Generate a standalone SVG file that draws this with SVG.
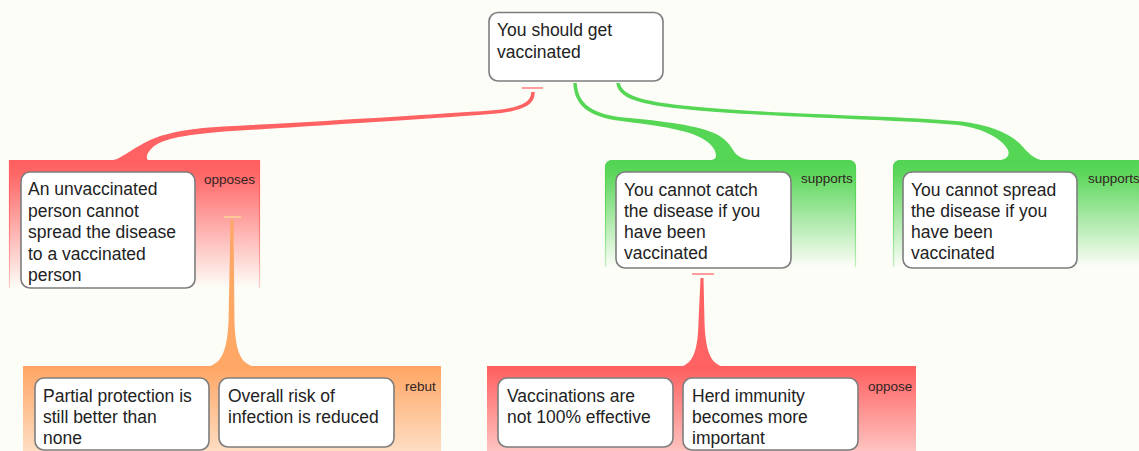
<svg xmlns="http://www.w3.org/2000/svg" width="1139" height="451" viewBox="0 0 1139 451">
<style>
.box{fill:#fff;stroke:#7d7d7d;stroke-width:1.6}
.t{font-family:"Liberation Sans",Arial,sans-serif;font-size:17.5px;fill:#222}
.lbl{font-family:"Liberation Sans",Arial,sans-serif;font-size:13.5px;fill:#332222}
.red{fill:#ff6262}
.grn{fill:#55d655}
.org{fill:#ffa866}
</style>
<defs>
<linearGradient id="gRed" x1="0" y1="0" x2="0" y2="1">
<stop offset="0" stop-color="#ff5e5e" stop-opacity="1"/>
<stop offset="0.1" stop-color="#ff5e5e" stop-opacity="0.95"/>
<stop offset="1" stop-color="#ff5e5e" stop-opacity="0"/>
</linearGradient>
<linearGradient id="gRedE" x1="0" y1="0" x2="0" y2="1">
<stop offset="0" stop-color="#ff5e5e" stop-opacity="1"/>
<stop offset="1" stop-color="#ff5e5e" stop-opacity="0.3"/>
</linearGradient>
<linearGradient id="gGrn" x1="0" y1="0" x2="0" y2="1">
<stop offset="0" stop-color="#52d452" stop-opacity="1"/>
<stop offset="0.12" stop-color="#52d452" stop-opacity="0.95"/>
<stop offset="1" stop-color="#52d452" stop-opacity="0"/>
</linearGradient>
<linearGradient id="gGrnE" x1="0" y1="0" x2="0" y2="1">
<stop offset="0" stop-color="#52d452" stop-opacity="1"/>
<stop offset="1" stop-color="#52d452" stop-opacity="0.35"/>
</linearGradient>
<linearGradient id="gOrg" x1="0" y1="0" x2="0" y2="1">
<stop offset="0" stop-color="#ffa563" stop-opacity="1"/>
<stop offset="1" stop-color="#ffa563" stop-opacity="0.1"/>
</linearGradient>
<linearGradient id="gRed2" x1="0" y1="0" x2="0" y2="1">
<stop offset="0" stop-color="#ff5e5e" stop-opacity="1"/>
<stop offset="1" stop-color="#ff5e5e" stop-opacity="0.1"/>
</linearGradient>
</defs>
<rect x="0" y="0" width="1139" height="451" fill="#fdfdf8"/>

<g id="panels">
<rect x="9" y="160" width="251" height="128" fill="url(#gRed)"/>
<path d="M9.5,288 V160.5 H259.5 V288" fill="none" stroke="url(#gRedE)" stroke-width="1.2"/>
<path d="M605,267 V168 Q605,160 613,160 H848 Q856,160 856,168 V267 Z" fill="url(#gGrn)"/>
<path d="M605.5,267 V168 Q605.5,160.5 613,160.5 H848 Q855.5,160.5 855.5,168 V267" fill="none" stroke="url(#gGrnE)" stroke-width="1.2"/>
<path d="M893,267 V168 Q893,160 901,160 H1139 V267 Z" fill="url(#gGrn)"/>
<path d="M893.5,267 V168 Q893.5,160.5 901,160.5 H1139" fill="none" stroke="url(#gGrnE)" stroke-width="1.2"/>
<rect x="23" y="366" width="418" height="120" fill="url(#gOrg)"/>
<rect x="487" y="366" width="429" height="120" fill="url(#gRed2)"/>
<text class="lbl" x="204" y="184">opposes</text>
<text class="lbl" x="801" y="183">supports</text>
<text class="lbl" x="1088" y="183">supports</text>
<text class="lbl" x="405" y="391">rebut</text>
<text class="lbl" x="868" y="391">oppose</text>
</g>

<g id="connectors">
<!-- top -> left (opposes) -->
<line x1="522" y1="88" x2="543" y2="88" stroke="#ff9d9d" stroke-width="2"/>
<path class="red" d="M531.3,92 C531,101 524,108 490,110.5 C440,114 330,121 223,126.5 C195,128 170,132 155,138 C140,144 130,152 118,158.5 C116,159.5 113,160 110,160 L148,160 C146,158 146,154 152,148 C160,140 180,135 224,131.5 C330,125 440,118 491,114 C526,111 534.7,104 534.7,92 Z"/>
<!-- top -> middle (supports) -->
<path class="grn" d="M573.3,83 C574.3,106 589,116.5 619.5,120.8 C659,126 692,130 707,141.5 C714,147 716,152 716,156 C716,158.5 714,159.5 711,160 L752,160 C744,159.5 737,157 733,150 C729,143 724,138 716,134 C700,126 665,121 621,117.2 C592,113.5 578,104 576.7,83 Z"/>
<!-- top -> right (supports) -->
<path class="grn" d="M616.3,83 C618.5,101.5 648,106.8 720,112.2 C800,118 900,120 958,125 C985,128.5 1003,140 1008,150 C1010,155 1007,158.5 1001,160 L1041,160 C1034,158.5 1028,153 1023,147 C1012,134 992,125.5 962,121.5 C900,116 800,114.8 720,108.8 C652,103.5 623,98.5 619.7,83 Z"/>
<!-- left -> orange (rebut) -->
<line x1="224" y1="217" x2="241" y2="217" stroke="#ffc898" stroke-width="2"/>
<path class="org" d="M230.5,220 L233.5,220 L234.5,322 C235.5,350 240,362 252,366 L210,366 C222,362 227,350 228.5,322 Z"/>
<!-- middle -> red bottom (oppose) -->
<line x1="692" y1="274" x2="714" y2="274" stroke="#ff9d9d" stroke-width="2"/>
<path class="red" d="M700.5,278 L703.5,278 L704.5,322 C705.5,350 710,362 721,366 L683,366 C693,362 698,350 698.5,322 Z"/>
</g>

<g id="node-main">
<rect class="box" x="489" y="12.5" width="174" height="68.5" rx="9"/>
<text class="t" x="497" y="36">You should get</text>
<text class="t" x="497" y="58">vaccinated</text>
</g>

<g id="node-unvaccinated">
<rect class="box" x="21" y="172" width="174" height="116" rx="9"/>
<text class="t" x="28" y="195">An unvaccinated</text>
<text class="t" x="28" y="216.5">person cannot</text>
<text class="t" x="28" y="238">spread the disease</text>
<text class="t" x="28" y="259.5">to a vaccinated</text>
<text class="t" x="28" y="281">person</text>
</g>

<g id="node-catch">
<rect class="box" x="616" y="172" width="175" height="96" rx="9"/>
<text class="t" x="624" y="196">You cannot catch</text>
<text class="t" x="624" y="217">the disease if you</text>
<text class="t" x="624" y="238">have been</text>
<text class="t" x="624" y="259">vaccinated</text>
</g>

<g id="node-spread">
<rect class="box" x="903" y="172" width="174" height="96" rx="9"/>
<text class="t" x="911" y="196">You cannot spread</text>
<text class="t" x="911" y="217">the disease if you</text>
<text class="t" x="911" y="238">have been</text>
<text class="t" x="911" y="259">vaccinated</text>
</g>

<g id="node-partial">
<rect class="box" x="35" y="378" width="174" height="72" rx="9"/>
<text class="t" x="43" y="402">Partial protection is</text>
<text class="t" x="43" y="423">still better than</text>
<text class="t" x="43" y="444">none</text>
</g>

<g id="node-overall">
<rect class="box" x="219" y="378" width="175" height="69" rx="9"/>
<text class="t" x="228" y="402">Overall risk of</text>
<text class="t" x="228" y="423">infection is reduced</text>
</g>

<g id="node-not100">
<rect class="box" x="498" y="378" width="175" height="69" rx="9"/>
<text class="t" x="507" y="402">Vaccinations are</text>
<text class="t" x="507" y="423">not 100% effective</text>
</g>

<g id="node-herd">
<rect class="box" x="683" y="378" width="175" height="72" rx="9"/>
<text class="t" x="692" y="402">Herd immunity</text>
<text class="t" x="692" y="423">becomes more</text>
<text class="t" x="692" y="444">important</text>
</g>
</svg>
